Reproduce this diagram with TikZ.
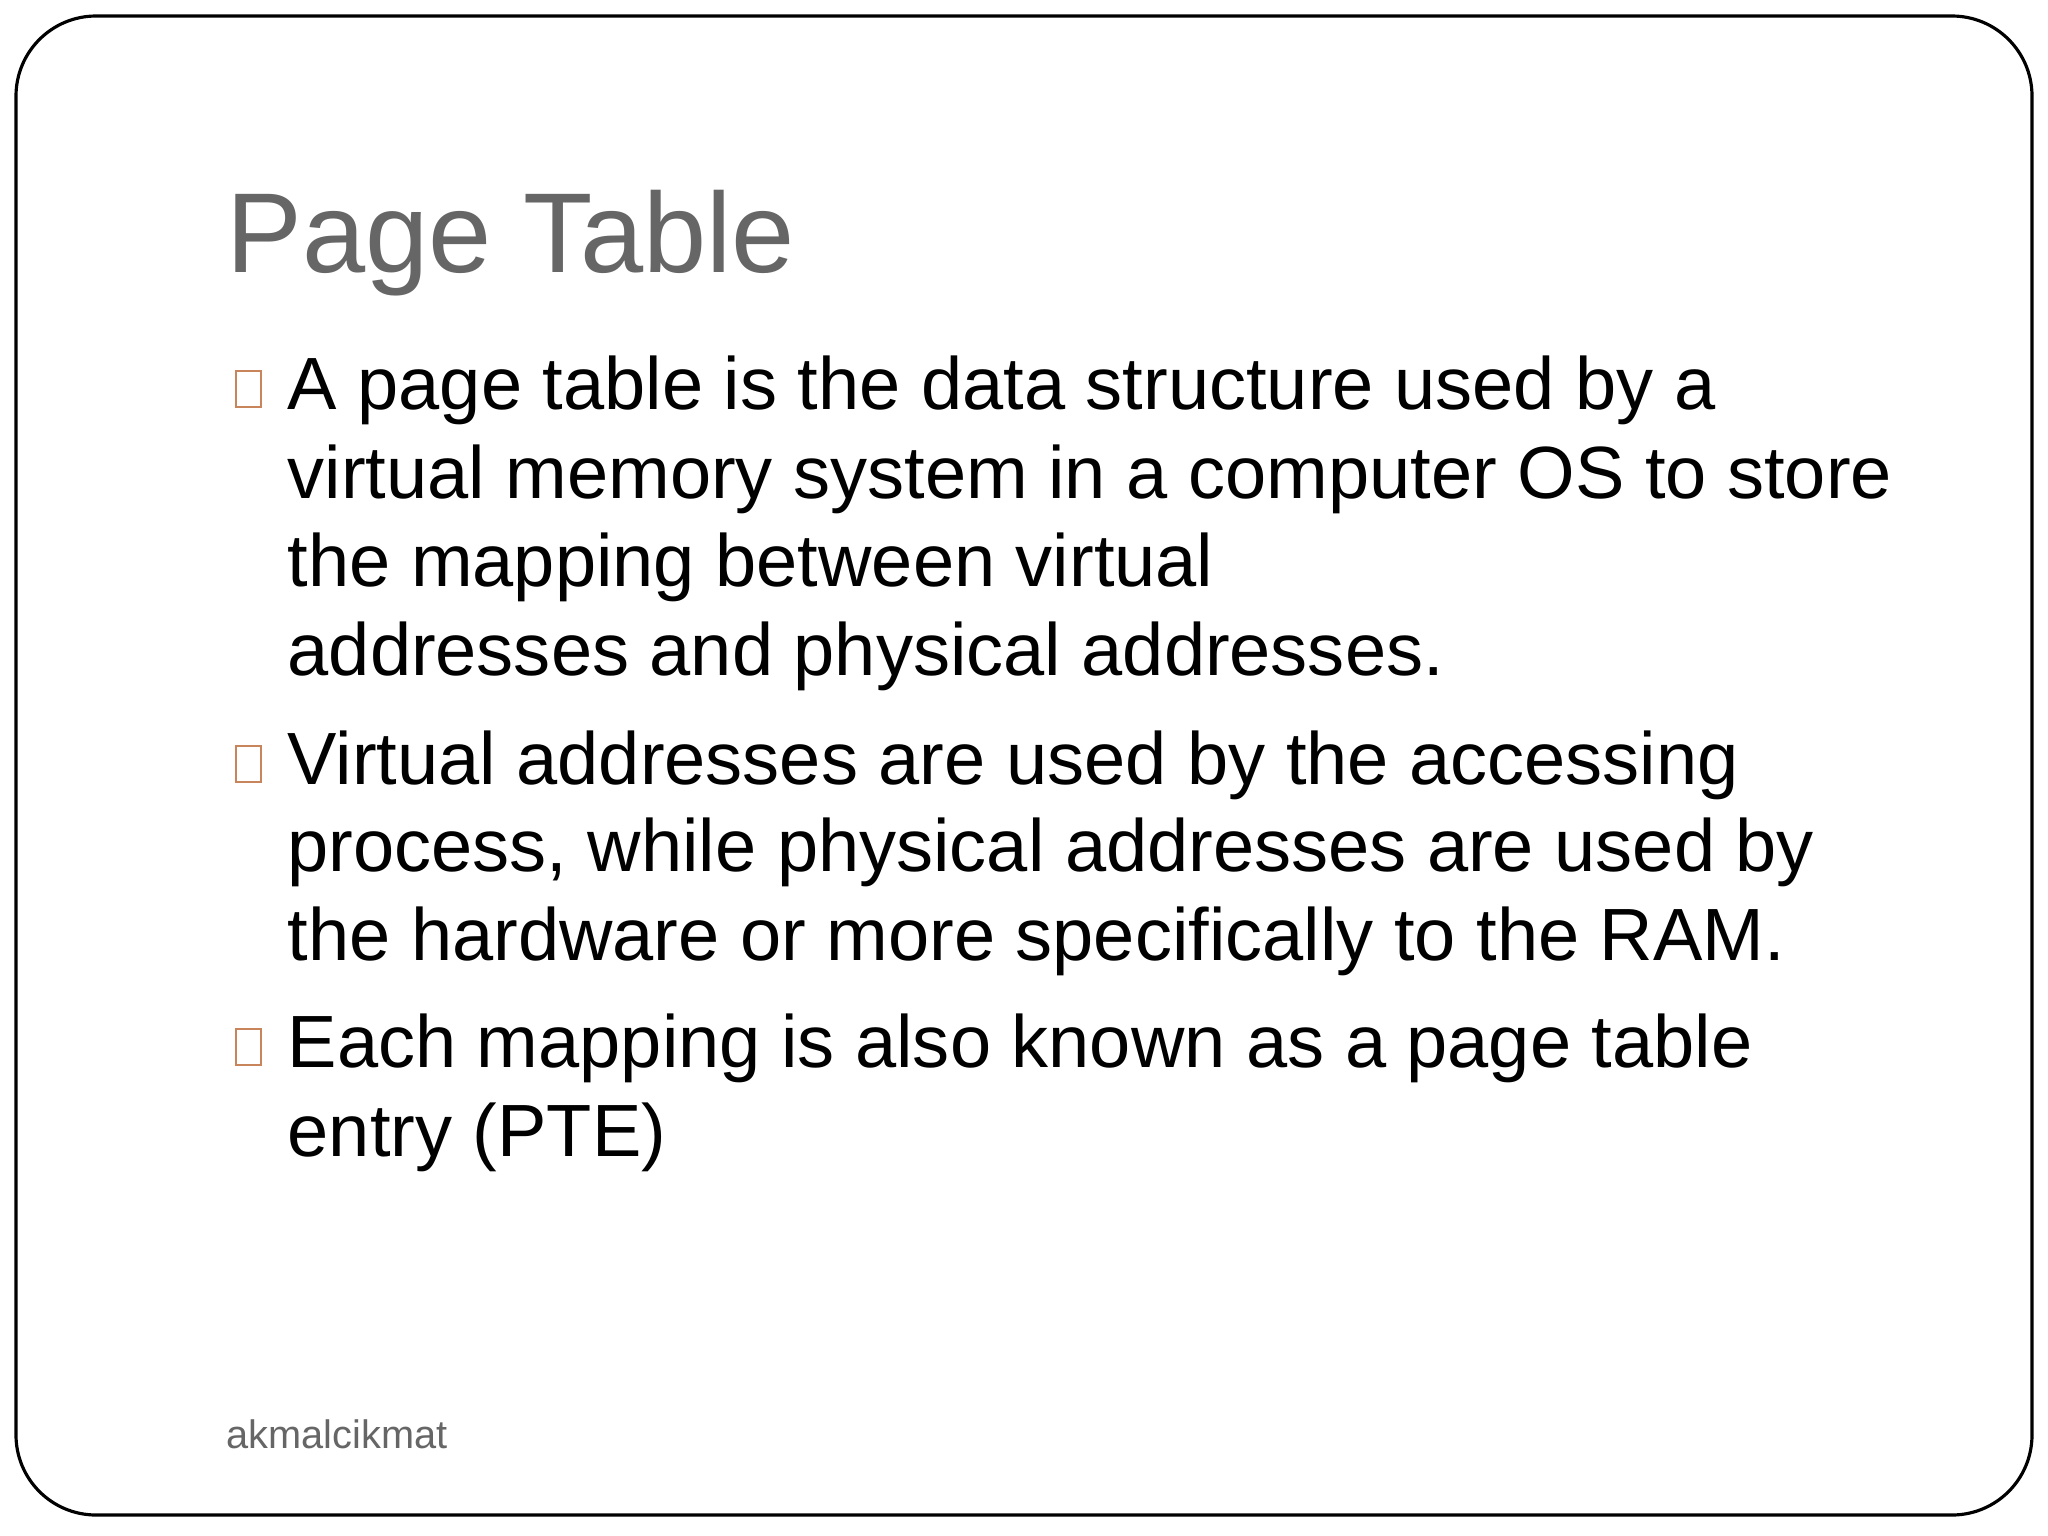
\documentclass[tikz,border=0pt]{standalone}
\usepackage{fontspec}
\setmainfont{Liberation Sans}
\definecolor{titlegray}{HTML}{666666}
\definecolor{bulorange}{HTML}{C8845A}
\tikzset{
  ln/.style={anchor=base west, inner sep=0pt, font=\fontsize{21.05}{25}\selectfont},
  bul/.style={draw=bulorange, line width=0.6pt}
}
\begin{document}
\begin{tikzpicture}[x=0.01cm,y=-0.01cm]
\useasboundingbox (0,0) rectangle (2048,1536);
\fill[white] (0,0) rectangle (2048,1536);
\draw[line width=0.9pt, rounded corners=0.8cm] (16,16) rectangle (2032,1515);
\node[anchor=base west, inner sep=0pt, text=titlegray, font=\fontsize{32.3}{36}\selectfont] (title) at (226,272) {Page Table};
\node[ln] (l1) at (287,409) {A page table is the data structure used by a};
\node[ln] (l2) at (287,498) {virtual memory system in a computer OS to store};
\node[ln] (l3) at (287,586) {the mapping between virtual};
\node[ln] (l4) at (287,675) {addresses and physical addresses.};
\node[ln] (l5) at (287,784) {Virtual addresses are used by the accessing};
\node[ln] (l6) at (287,871) {process, while physical addresses are used by};
\node[ln] (l7) at (287,960) {the hardware or more specifically to the RAM.};
\node[ln] (l8) at (287,1067) {Each mapping is also known as a page table};
\node[ln] (l9) at (287,1156) {entry (PTE)};
\draw[bul] (236,371) rectangle (261,407);
\draw[bul] (236,746) rectangle (261,782);
\draw[bul] (236,1029) rectangle (261,1065);
\node[anchor=base west, inner sep=0pt, text=titlegray, font=\fontsize{11.3}{13}\selectfont] (foot) at (226,1448) {akmalcikmat};
\end{tikzpicture}
\end{document}
